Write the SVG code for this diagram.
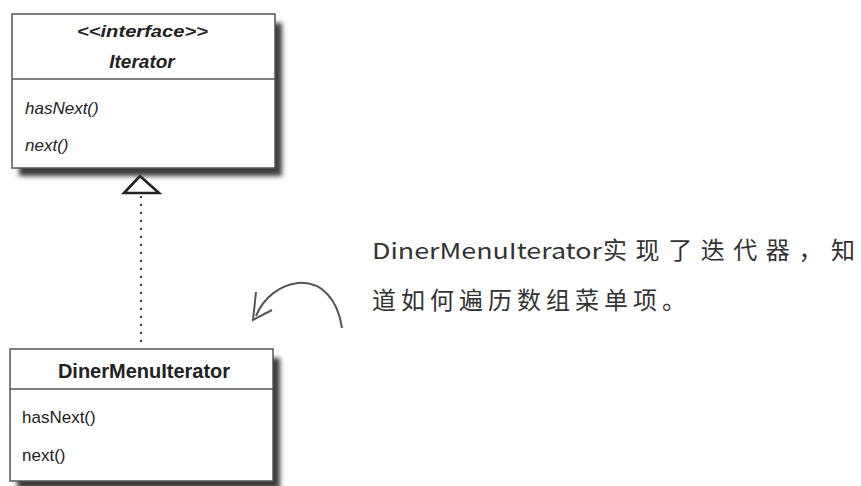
<svg xmlns="http://www.w3.org/2000/svg" width="861" height="486" viewBox="0 0 861 486">
<defs>
<filter id="sh" x="-20%" y="-20%" width="140%" height="140%"><feGaussianBlur stdDeviation="2.5"/></filter>
<style>
.box{fill:#fff;stroke:#555;stroke-width:1.5}
.shadow{fill:#3a3a3a;filter:url(#sh)}
.div{stroke:#555;stroke-width:1.5}
.t{font-family:"Liberation Sans",Arial,sans-serif;fill:#222}
.hand{font-family:"Noto Sans CJK SC",sans-serif;fill:#333}
</style>
</defs>
<rect width="861" height="486" fill="#fff"/>
<g id="connectors">
<line x1="141" y1="196" x2="141" y2="348" stroke="#444" stroke-width="2.2" stroke-dasharray="2 6"/>
<polygon points="140,176 124,193 159,193" fill="#fff" stroke="#222" stroke-width="2.6" stroke-linejoin="miter"/>
<path d="M342,328 C338,300 322,281 298,283 C280,285 264,297 256,316" fill="none" stroke="#555" stroke-width="2"/>
<path d="M256,292 L253,320 L272,310" fill="none" stroke="#555" stroke-width="2"/>
</g>
<g id="iterator">
<rect class="shadow" x="19" y="23" width="263" height="153"/>
<rect class="box" x="12" y="14" width="263" height="154"/>
<line class="div" x1="12" y1="79" x2="275" y2="79"/>
<text class="t" x="77" y="37" font-size="16.5" font-weight="bold" font-style="italic" textLength="131" lengthAdjust="spacingAndGlyphs">&lt;&lt;interface&gt;&gt;</text>
<text class="t" x="142" y="68" font-size="19" font-weight="bold" font-style="italic" text-anchor="middle">Iterator</text>
<text class="t" x="25" y="114" font-size="17" font-style="italic">hasNext()</text>
<text class="t" x="25" y="151" font-size="17" font-style="italic">next()</text>
</g>
<g id="dinerMenuIterator">
<rect class="shadow" x="17" y="358" width="263" height="131"/>
<rect class="box" x="10" y="349" width="263" height="132"/>
<line class="div" x1="10" y1="389" x2="273" y2="389"/>
<text class="t" x="144" y="378" font-size="20" font-weight="bold" text-anchor="middle">DinerMenuIterator</text>
<text class="t" x="22" y="423" font-size="17">hasNext()</text>
<text class="t" x="22" y="461" font-size="17">next()</text>
</g>
<g id="note">
<text class="hand" x="372" y="259" font-size="22" textLength="230" lengthAdjust="spacingAndGlyphs">DinerMenuIterator</text>
<text class="hand" x="603" y="259" font-size="24" textLength="252" lengthAdjust="spacing">实现了迭代器，知</text>
<text class="hand" x="372" y="309" font-size="24" letter-spacing="5">道如何遍历数组菜单项。</text>
</g>
</svg>
